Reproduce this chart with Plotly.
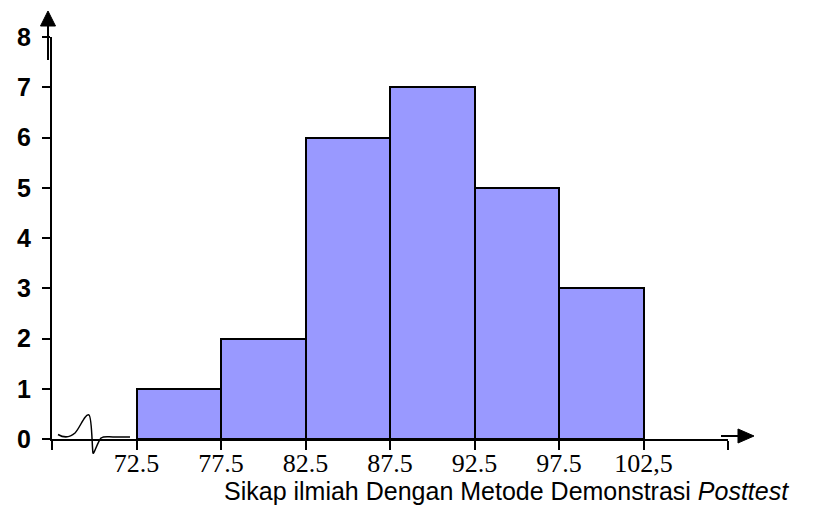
import plotly.graph_objects as go

# Class boundaries and frequencies of the histogram
bin_edges = [72.5, 77.5, 82.5, 87.5, 92.5, 97.5, 102.5]
frequencies = [1, 2, 6, 7, 5, 3]

# Axis ticks
x_tick_vals = [67.5, 72.5, 77.5, 82.5, 87.5, 92.5, 97.5, 102.5, 107.5]
x_tick_text = ["", "72.5", "77.5", "82.5", "87.5", "92.5", "97.5", "102,5", ""]
y_tick_vals = [0, 1, 2, 3, 4, 5, 6, 7, 8]

x_title = "Sikap ilmiah Dengan Metode Demonstrasi <i>Posttest</i>"

W, H = 822, 506
ML, MR, MT, MB = 52, 94, 37, 67
PW, PH = W - ML - MR, H - MT - MB


def px(x, y):
    """Pixel position -> paper coordinates."""
    return (x - ML) / PW, (H - MB - y) / PH


def path(points, close=False):
    parts = []
    for i, (x, y) in enumerate(points):
        u, v = px(x, y)
        parts.append(("M" if i == 0 else "L") + f"{u:.5f},{v:.5f}")
    return " ".join(parts) + (" Z" if close else "")


centers = [(a + b) / 2 for a, b in zip(bin_edges[:-1], bin_edges[1:])]
widths = [b - a for a, b in zip(bin_edges[:-1], bin_edges[1:])]

fig = go.Figure(
    go.Bar(
        x=centers,
        y=frequencies,
        width=widths,
        marker=dict(color="#9999FF", line=dict(color="black", width=2)),
        hoverinfo="skip",
    )
)

shapes = []
# arrow on the vertical axis
shapes.append(dict(type="path", xref="paper", yref="paper",
                   path=path([(48, 60), (48, 24)]),
                   line=dict(color="black", width=2)))
shapes.append(dict(type="path", xref="paper", yref="paper",
                   path=path([(48, 11), (40.5, 26), (55.5, 26)], close=True),
                   fillcolor="black", line=dict(color="black", width=1)))
# arrow on the horizontal axis
shapes.append(dict(type="path", xref="paper", yref="paper",
                   path=path([(721, 436), (740, 436)]),
                   line=dict(color="black", width=2)))
shapes.append(dict(type="path", xref="paper", yref="paper",
                   path=path([(754, 436), (738, 429), (738, 443)], close=True),
                   fillcolor="black", line=dict(color="black", width=1)))

# axis-break squiggle near the origin
def c(x, y):
    u, v = px(x, y)
    return f"{u:.5f},{v:.5f}"

squiggle = (
    f"M{c(58, 434.5)} "
    f"C{c(64, 438)} {c(70, 437.5)} {c(75, 433)} "
    f"C{c(80, 428)} {c(85, 413)} {c(89, 415)} "
    f"C{c(92, 417)} {c(92, 448)} {c(93, 453)} "
    f"C{c(94, 455)} {c(97, 443)} {c(101, 438)} "
    f"C{c(104, 436)} {c(108, 437)} {c(113, 437)} "
    f"L{c(130, 437)}"
)
shapes.append(dict(type="path", xref="paper", yref="paper", path=squiggle,
                   line=dict(color="black", width=1.5)))

fig.update_layout(
    width=W, height=H,
    margin=dict(l=ML, r=MR, t=MT, b=MB, pad=0),
    plot_bgcolor="white", paper_bgcolor="white",
    showlegend=False,
    bargap=0,
    shapes=shapes,
    xaxis=dict(
        range=[67.5, 107.5],
        tickmode="array", tickvals=x_tick_vals, ticktext=x_tick_text,
        ticks="outside", ticklen=9, tickwidth=2, tickcolor="black",
        showline=True, linecolor="black", linewidth=2,
        showgrid=False, zeroline=False,
        tickfont=dict(family="Liberation Serif, Times New Roman, serif", size=26, color="black"),
        ticklabelstandoff=-9,
    ),
    yaxis=dict(
        range=[0, 8],
        tickmode="array", tickvals=y_tick_vals,
        ticks="outside", ticklen=8, tickwidth=2, tickcolor="black",
        showline=True, linecolor="black", linewidth=2,
        showgrid=False, zeroline=False,
        tickfont=dict(family="Liberation Sans, Arial, sans-serif", size=25, color="black", weight="bold"),
        ticklabelstandoff=6,
    ),
    annotations=[
        dict(
            text=x_title, xref="paper", yref="paper",
            x=(506 - ML) / PW, y=(H - MB - 491) / PH,
            xanchor="center", yanchor="middle", showarrow=False,
            font=dict(family="Liberation Sans, Arial, sans-serif", size=25, color="black"),
        )
    ],
)

fig.write_html("out.html")
